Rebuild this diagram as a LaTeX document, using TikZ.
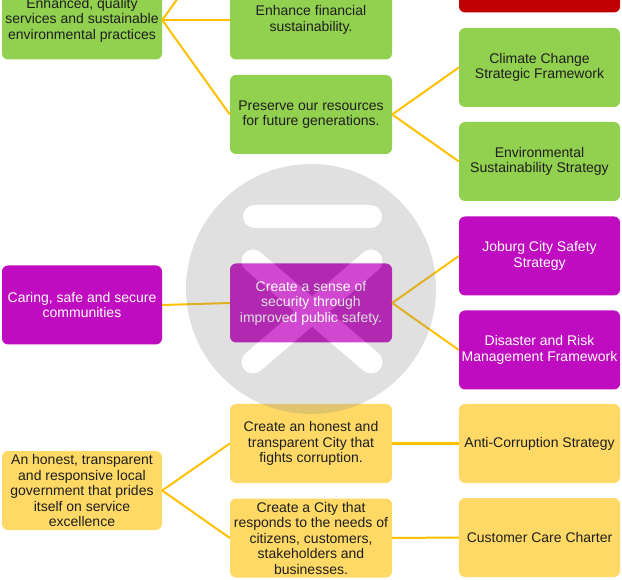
\documentclass[tikz,border=0pt]{standalone}
\usepackage{fontspec}
\setmainfont{Liberation Sans}
\definecolor{boxgreen}{HTML}{92D050}
\definecolor{boxyellow}{HTML}{FFD966}
\definecolor{boxpurple}{HTML}{C00CC0}
\definecolor{boxred}{HTML}{C00000}
\definecolor{linkcol}{HTML}{FFC000}
\definecolor{txtdark}{HTML}{1E1E1E}
\definecolor{wmgray}{HTML}{838383}
\tikzset{
  card/.style={rounded corners=6pt, minimum height=79pt, inner sep=2pt, align=center,
    font={\fontsize{14pt}{15.5pt}\selectfont}, text=txtdark},
  cardA/.style={card, minimum width=160pt},
  cardB/.style={card, minimum width=162pt},
  cardC/.style={card, minimum width=161pt},
  greenbox/.style={fill=boxgreen},
  yellowbox/.style={fill=boxyellow},
  purplebox/.style={fill=boxpurple, text=white},
  redbox/.style={fill=boxred},
  link/.style={draw=linkcol, line width=2pt},
}
\begin{document}
\begin{tikzpicture}[x=1pt, y=-1pt]
\useasboundingbox (0,0) rectangle (622,580);
\clip (0,0) rectangle (622,580);

% top group (green)
\node[cardA, greenbox] (A) at (82,20) {Enhanced, quality\\services and sustainable\\environmental practices};
\node[cardB, greenbox] (B) at (311,20) {Enhance financial\\sustainability.};
\node[cardB, greenbox] (C) at (311,114.5) {Preserve our resources\\for future generations.};
\node[cardC, redbox] (R) at (539.5,-27) {};
\node[cardC, greenbox] (CC) at (539.5,67.5) {Climate Change\\Strategic Framework};
\node[cardC, greenbox] (ES) at (539.5,161.5) {Environmental\\Sustainability Strategy};
\coordinate (Bup) at (230,-74);

% middle group (purple)
\node[cardA, purplebox] (CS) at (82,305) {Caring, safe and secure\\communities};
\node[cardB, purplebox] (SS) at (311,303) {Create a sense of\\security through\\improved public safety.};
\node[cardC, purplebox] (JB) at (539.5,256) {Joburg City Safety\\Strategy};
\node[cardC, purplebox] (DR) at (539.5,350) {Disaster and Risk\\Management Framework};

% bottom group (yellow)
\node[cardA, yellowbox] (HG) at (82,490.5) {An honest, transparent\\and responsive local\\government that prides\\itself on service\\excellence};
\node[cardB, yellowbox] (HC) at (311,443.5) {Create an honest and\\transparent City that\\fights corruption.};
\node[cardB, yellowbox] (RC) at (311,538) {Create a City that\\responds to the needs of\\citizens, customers,\\stakeholders and\\businesses.};
\node[cardC, yellowbox] (AC) at (539.5,443.5) {Anti-Corruption Strategy};
\node[cardC, yellowbox] (CU) at (539.5,537.5) {Customer Care Charter};

% connectors
\draw[link] (A.east) -- (Bup);
\draw[link] (A.east) -- (B.west);
\draw[link] (A.east) -- (C.west);
\draw[link] (C.east) -- (CC.west);
\draw[link] (C.east) -- (ES.west);
\draw[link] (CS.east) -- (SS.west);
\draw[link] (SS.east) -- (JB.west);
\draw[link] (SS.east) -- (DR.west);
\draw[link] (HG.east) -- (HC.west);
\draw[link] (HG.east) -- (RC.west);
\draw[link] (HC.east) -- (AC.west);
\draw[link] (RC.east) -- (CU.west);

% watermark
\begin{scope}[transparency group, opacity=0.25]
  \fill[wmgray] (311,289) circle[radius=125];
  \draw[white, line width=23pt, line cap=round] (254.5,216.5) -- (370.5,216.5);
  \draw[white, line width=23pt, line cap=round] (253,261) -- (371,362);
  \draw[white, line width=23pt, line cap=round] (371,261) -- (253,362);
\end{scope}
\end{tikzpicture}
\end{document}
